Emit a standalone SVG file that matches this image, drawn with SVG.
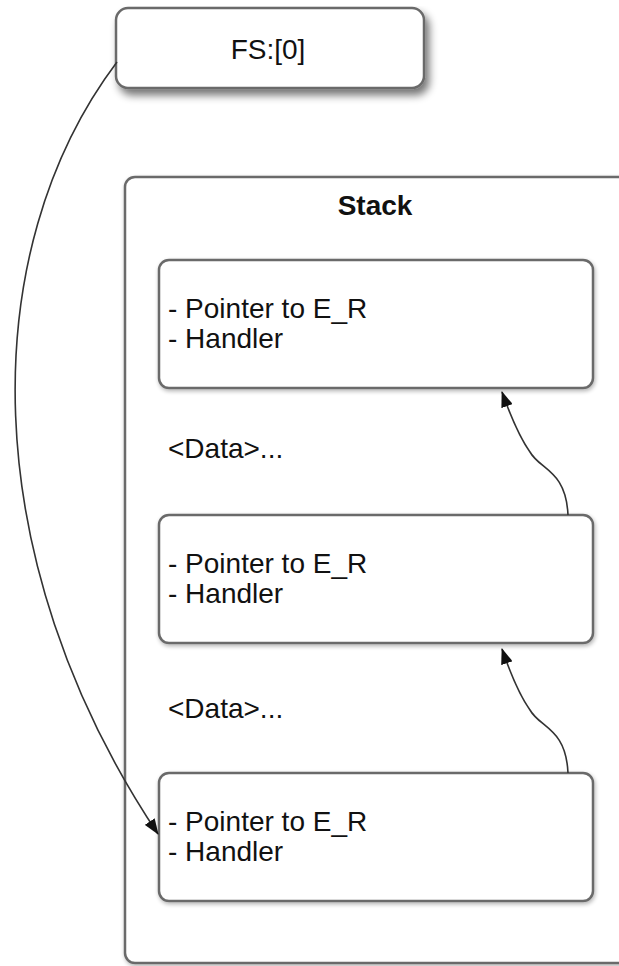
<svg xmlns="http://www.w3.org/2000/svg" width="619" height="966" viewBox="0 0 619 966">
<defs>
<style>
.box{fill:#fff;stroke:#6a6a6a;stroke-width:2.5}
.t{font-family:"Liberation Sans",Arial,sans-serif;font-size:28px;fill:#111}
.b{font-weight:bold}
.c{fill:none;stroke:#333;stroke-width:1.6}
</style>
<filter id="sh" x="-10%" y="-10%" width="130%" height="150%">
<feGaussianBlur in="SourceAlpha" stdDeviation="4"/>
<feOffset dx="4" dy="6" result="o"/>
<feComponentTransfer><feFuncA type="linear" slope="0.55"/></feComponentTransfer>
<feMerge><feMergeNode/><feMergeNode in="SourceGraphic"/></feMerge>
</filter>
<filter id="sh2" x="-10%" y="-10%" width="130%" height="130%">
<feGaussianBlur in="SourceAlpha" stdDeviation="2"/>
<feOffset dx="1" dy="2" result="o"/>
<feComponentTransfer><feFuncA type="linear" slope="0.3"/></feComponentTransfer>
<feMerge><feMergeNode/><feMergeNode in="SourceGraphic"/></feMerge>
</filter>
<marker id="ah" viewBox="0 0 16 12" refX="15" refY="6" markerWidth="16" markerHeight="12" markerUnits="userSpaceOnUse" orient="auto">
<path d="M0,0 L16,6 L0,12 z" fill="#111"/>
</marker>
</defs>
<g id="fs">
<rect class="box" x="116" y="8" width="308" height="80" rx="12" filter="url(#sh)"/>
<text class="t" x="268" y="59" text-anchor="middle">FS:[0]</text>
</g>
<g id="stack">
<rect class="box" x="125" y="177" width="510" height="786" rx="10" filter="url(#sh2)"/>
<text class="t b" x="375" y="215" text-anchor="middle">Stack</text>
<text class="t" x="168" y="458">&lt;Data&gt;...</text>
<text class="t" x="168" y="718">&lt;Data&gt;...</text>
</g>
<g id="rec1">
<rect class="box" x="159" y="260" width="434" height="128" rx="10" filter="url(#sh2)"/>
<text class="t" x="168" y="318">- Pointer to E_R</text>
<text class="t" x="168" y="348">- Handler</text>
</g>
<g id="rec2">
<rect class="box" x="159" y="515" width="434" height="128" rx="10" filter="url(#sh2)"/>
<text class="t" x="168" y="573">- Pointer to E_R</text>
<text class="t" x="168" y="603">- Handler</text>
</g>
<g id="rec3">
<rect class="box" x="159" y="773" width="434" height="128" rx="10" filter="url(#sh2)"/>
<text class="t" x="168" y="831">- Pointer to E_R</text>
<text class="t" x="168" y="861">- Handler</text>
</g>
<g id="connectors">
<path class="c" d="M117,62 C-25,250 -25,560 158,834" marker-end="url(#ah)"/>
<path class="c" d="M568,515 C566,470 540,470 530,452 C520,438 512,420 502,392" marker-end="url(#ah)"/>
<path class="c" d="M568,773 C566,728 540,728 530,710 C520,696 512,678 502,649" marker-end="url(#ah)"/>
</g>
</svg>
